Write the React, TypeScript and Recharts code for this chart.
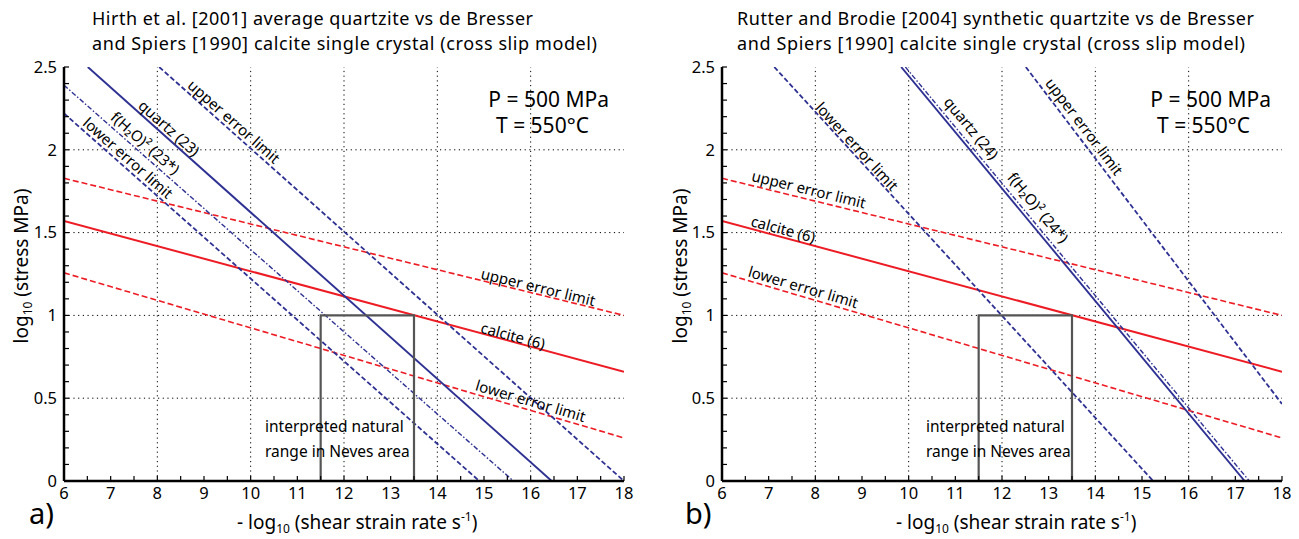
import { LineChart, Line, XAxis, YAxis, ReferenceLine, ReferenceDot } from 'recharts';

// axis ticks and grid
const xTicks = Array.from({ length: 25 }, (_, i) => 6 + i * 0.5);
const yTicks = Array.from({ length: 26 }, (_, i) => i / 10);
const gridX = [8, 10, 12, 14, 16];
const gridY = [0.5, 1, 1.5, 2];

// calcite (same in both panels)
const calcite = [{ x: 6, y: 1.57 }, { x: 18, y: 0.66 }];
const calciteUpper = [{ x: 6, y: 1.828 }, { x: 18, y: 1.0 }];
const calciteLower = [{ x: 6, y: 1.257 }, { x: 18, y: 0.26 }];

// a) Hirth et al. quartzite
const quartz23 = [{ x: 6.51, y: 2.5 }, { x: 16.45, y: 0 }];
const fh2o23 = [{ x: 6, y: 2.39 }, { x: 15.63, y: 0 }];
const lower23 = [{ x: 6, y: 2.22 }, { x: 14.9, y: 0 }];
const upper23 = [{ x: 8.04, y: 2.5 }, { x: 18, y: 0 }];

// b) Rutter and Brodie quartzite
const quartz24 = [{ x: 9.84, y: 2.5 }, { x: 17.2, y: 0 }];
const fh2o24 = [{ x: 9.93, y: 2.5 }, { x: 17.3, y: 0 }];
const lower24 = [{ x: 7.12, y: 2.5 }, { x: 15.24, y: 0 }];
const upper24 = [{ x: 12.51, y: 2.5 }, { x: 18, y: 0.465 }];

// interpreted natural range box
const naturalBox = [
  { x: 11.5, y: 0 },
  { x: 11.5, y: 1 },
  { x: 13.5, y: 1 },
  { x: 13.5, y: 0 },
];

const RED = '#ed1c24';
const BLUE = '#2e3192';
const FONT = '"Noto Sans", "Open Sans", sans-serif';

type Pt = { x: number; y: number };
type Series = { key: string; data: Pt[]; color: string; width: number; dash?: string };
type Note = { text: string; x: number; y: number; angle: number };

const redSeries: Series[] = [
  { key: 'cu', data: calciteUpper, color: RED, width: 1.6, dash: '6 3' },
  { key: 'cl', data: calciteLower, color: RED, width: 1.6, dash: '6 3' },
  { key: 'c', data: calcite, color: RED, width: 2 },
];

const seriesA: Series[] = [
  ...redSeries,
  { key: 'u', data: upper23, color: BLUE, width: 1.8, dash: '5 2.5' },
  { key: 'l', data: lower23, color: BLUE, width: 1.8, dash: '5 2.5' },
  { key: 'f', data: fh2o23, color: BLUE, width: 1.4, dash: '5 2 1.5 2' },
  { key: 'q', data: quartz23, color: BLUE, width: 1.9 },
  { key: 'box', data: naturalBox, color: '#555', width: 2.2 },
];

const seriesB: Series[] = [
  ...redSeries,
  { key: 'u', data: upper24, color: BLUE, width: 1.8, dash: '5 2.5' },
  { key: 'l', data: lower24, color: BLUE, width: 1.8, dash: '5 2.5' },
  { key: 'f', data: fh2o24, color: BLUE, width: 1.4, dash: '5 2 1.5 2' },
  { key: 'q', data: quartz24, color: BLUE, width: 1.9 },
  { key: 'box', data: naturalBox, color: '#555', width: 2.2 },
];

const notesA: Note[] = [
  { text: 'upper error limit', x: 9.64, y: 2.17, angle: 41.6 },
  { text: 'quartz (23)', x: 8.25, y: 2.13, angle: 41.6 },
  { text: 'f(H₂O)² (23*)', x: 7.74, y: 2.04, angle: 41.4 },
  { text: 'lower error limit', x: 7.37, y: 1.95, angle: 41.4 },
  { text: 'upper error limit', x: 16.16, y: 1.17, angle: 13.8 },
  { text: 'calcite (6)', x: 15.62, y: 0.876, angle: 15 },
  { text: 'lower error limit', x: 16.0, y: 0.483, angle: 16.4 },
];

const notesB: Note[] = [
  { text: 'lower error limit', x: 8.89, y: 2.02, angle: 47.5 },
  { text: 'quartz (24)', x: 11.34, y: 2.13, angle: 50.4 },
  { text: 'f(H₂O)² (24*)', x: 12.77, y: 1.65, angle: 50.4 },
  { text: 'upper error limit', x: 13.76, y: 2.14, angle: 52.9 },
  { text: 'upper error limit', x: 7.86, y: 1.76, angle: 13.8 },
  { text: 'calcite (6)', x: 7.31, y: 1.52, angle: 15 },
  { text: 'lower error limit', x: 7.74, y: 1.17, angle: 16.4 },
];

const fmtX = (v: number) => (Number.isInteger(v) ? String(v) : '');
const fmtY = (v: number) => {
  const r = Math.round(v * 10) / 10;
  return Math.abs(r * 2 - Math.round(r * 2)) < 1e-6 ? String(r) : '';
};

const axisLine = { stroke: '#000', strokeWidth: 2.5 };
const tickLine = { stroke: '#000', strokeWidth: 1.2 };

const Panel = ({
  series,
  notes,
  left,
  right,
}: {
  series: Series[];
  notes: Note[];
  left: number;
  right: number;
}) => (
  <LineChart width={650} height={539} margin={{ top: 67, right, bottom: 28, left }}>
    {gridX.map((v) => (
      <ReferenceLine key={'gx' + v} x={v} stroke="#000" strokeWidth={1} strokeDasharray="1.2 3.5" />
    ))}
    {gridY.map((v) => (
      <ReferenceLine key={'gy' + v} y={v} stroke="#000" strokeWidth={1} strokeDasharray="1.2 3.5" />
    ))}
    <XAxis
      dataKey="x"
      type="number"
      domain={[6, 18]}
      allowDataOverflow
      ticks={xTicks}
      interval={0}
      tickFormatter={fmtX}
      tickSize={-5}
      tickMargin={11}
      height={30}
      axisLine={axisLine}
      tickLine={tickLine}
      tick={{ fontSize: 16.5, fill: '#000' }}
    />
    <XAxis
      xAxisId="top"
      orientation="top"
      type="number"
      domain={[6, 18]}
      allowDataOverflow
      ticks={xTicks}
      interval={0}
      tick={false}
      tickSize={-5}
      height={0}
      axisLine={axisLine}
      tickLine={tickLine}
    />
    <YAxis
      type="number"
      domain={[0, 2.5]}
      allowDataOverflow
      ticks={yTicks}
      interval={0}
      tickFormatter={fmtY}
      tickSize={-5}
      tickMargin={12}
      width={40}
      axisLine={axisLine}
      tickLine={tickLine}
      tick={{ fontSize: 16.5, fill: '#000' }}
    />
    <YAxis
      yAxisId="right"
      orientation="right"
      type="number"
      domain={[0, 2.5]}
      allowDataOverflow
      ticks={yTicks}
      interval={0}
      tick={false}
      tickSize={-5}
      width={0}
      axisLine={axisLine}
      tickLine={tickLine}
    />
    {series.map((s) => (
      <Line
        key={s.key}
        data={s.data}
        dataKey="y"
        type="linear"
        stroke={s.color}
        strokeWidth={s.width}
        strokeDasharray={s.dash}
        dot={false}
        activeDot={false}
        isAnimationActive={false}
      />
    ))}
    {notes.map((n, i) => (
      <ReferenceDot
        key={'n' + i}
        x={n.x}
        y={n.y}
        r={0}
        fill="none"
        stroke="none"
        label={{
          value: n.text,
          position: 'center',
          angle: n.angle,
          fontSize: 15,
          fill: '#000',
          fontFamily: FONT,
        }}
      />
    ))}
  </LineChart>
);

type Layout = {
  title: string[];
  titleLen: number[];
  titleX: number;
  pEnd: number;
  tStart: number;
  capX: number;
  xLabX: number;
  yLabX: number;
  letter: string;
  letterX: number;
};

const layoutA: Layout = {
  title: [
    'Hirth et al. [2001] average quartzite vs de Bresser',
    'and Spiers [1990] calcite single crystal (cross slip model)',
  ],
  titleLen: [441, 505],
  titleX: 92,
  pEnd: 609,
  tStart: 496,
  capX: 265,
  xLabX: 237,
  yLabX: 28,
  letter: 'a)',
  letterX: 29,
};

const layoutB: Layout = {
  title: [
    'Rutter and Brodie [2004] synthetic quartzite vs de Bresser',
    'and Spiers [1990] calcite single crystal (cross slip model)',
  ],
  titleLen: [517, 508],
  titleX: 737,
  pEnd: 1271,
  tStart: 1157,
  capX: 926,
  xLabX: 896,
  yLabX: 687,
  letter: 'b)',
  letterX: 685,
};

const PanelText = ({ l }: { l: Layout }) => (
  <g>
    <text x={l.titleX} y={24.5} fontSize={18} textLength={l.titleLen[0]} lengthAdjust="spacing">
      {l.title[0]}
    </text>
    <text x={l.titleX} y={49.5} fontSize={18} textLength={l.titleLen[1]} lengthAdjust="spacing">
      {l.title[1]}
    </text>
    <text x={l.pEnd} y={107} fontSize={21} textAnchor="end">P = 500 MPa</text>
    <text x={l.tStart} y={133} fontSize={21}>T = 550°C</text>
    <text x={l.capX} y={432} fontSize={15.5}>interpreted natural</text>
    <text x={l.capX} y={457} fontSize={15.5}>range in Neves area</text>
    <text x={l.xLabX} y={529} fontSize={19}>
      - log<tspan fontSize={12} dy={4}>10</tspan>
      <tspan dy={-4}> (shear strain rate s</tspan>
      <tspan fontSize={12} dy={-8}>-1</tspan>
      <tspan dy={8}>)</tspan>
    </text>
    <text transform={`translate(${l.yLabX},266) rotate(-90)`} fontSize={19} textAnchor="middle">
      log<tspan fontSize={12} dy={4}>10</tspan>
      <tspan dy={-4}> (stress MPa)</tspan>
    </text>
    <text x={l.letterX} y={524} fontSize={29}>{l.letter}</text>
  </g>
);

export default function App() {
  return (
    <div
      style={{
        position: 'absolute',
        left: 0,
        top: 0,
        width: 1299,
        height: 539,
        background: '#fff',
        fontFamily: FONT,
      }}
    >
      <div style={{ position: 'absolute', left: 0, top: 0 }}>
        <Panel series={seriesA} notes={notesA} left={24} right={26} />
      </div>
      <div style={{ position: 'absolute', left: 650, top: 0 }}>
        <Panel series={seriesB} notes={notesB} left={32} right={18} />
      </div>
      <svg
        width={1299}
        height={539}
        style={{ position: 'absolute', left: 0, top: 0, pointerEvents: 'none', fontFamily: FONT }}
        fill="#000"
      >
        <PanelText l={layoutA} />
        <PanelText l={layoutB} />
      </svg>
    </div>
  );
}
